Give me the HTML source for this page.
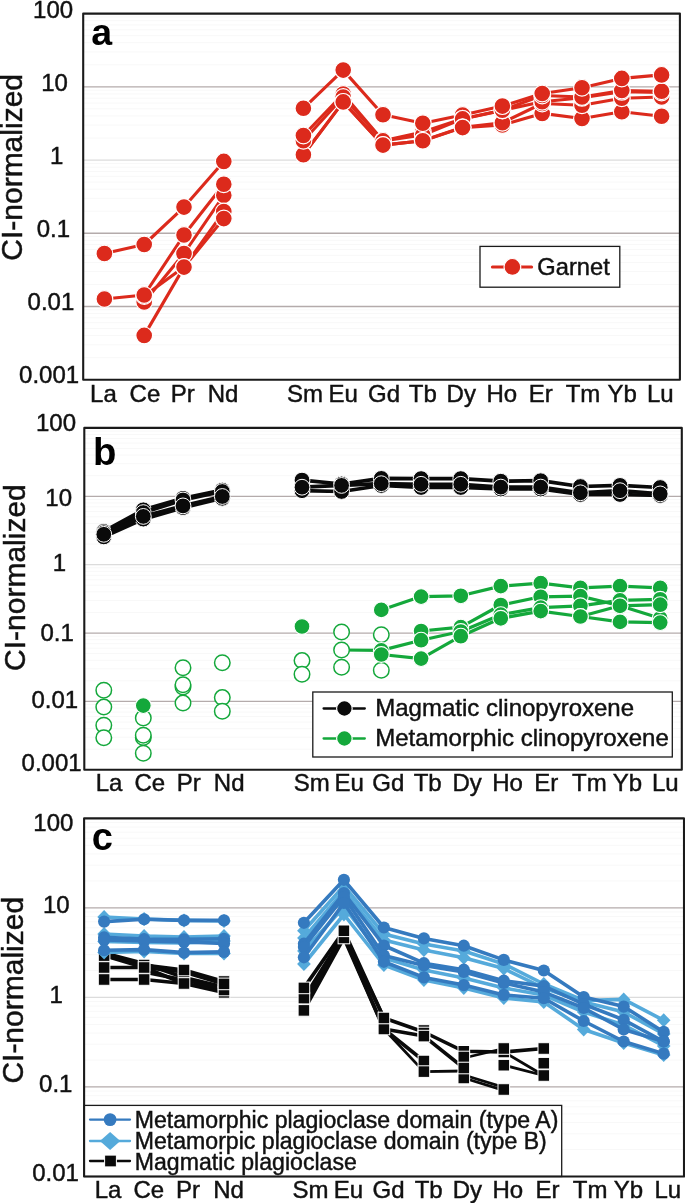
<!DOCTYPE html>
<html><head><meta charset="utf-8"><title>REE patterns</title>
<style>
html,body{margin:0;padding:0;background:#fff;}
body{width:685px;height:1203px;overflow:hidden;}
svg{display:block;will-change:transform;font-family:"Liberation Sans",sans-serif;}
text{stroke:#111;stroke-width:0.45px;}
text[font-weight]{stroke:none;}
</style></head><body>
<svg width="685" height="1203" viewBox="0 0 685 1203">
<rect width="685" height="1203" fill="#fff"/>
<rect x="83.2" y="13.6" width="596.70" height="366.10" fill="#fff"/>
<line x1="83.2" x2="679.9" y1="64.78" y2="64.78" stroke="#f8f8f8" stroke-width="1"/>
<line x1="83.2" x2="679.9" y1="51.89" y2="51.89" stroke="#f8f8f8" stroke-width="1"/>
<line x1="83.2" x2="679.9" y1="42.74" y2="42.74" stroke="#f8f8f8" stroke-width="1"/>
<line x1="83.2" x2="679.9" y1="35.64" y2="35.64" stroke="#f8f8f8" stroke-width="1"/>
<line x1="83.2" x2="679.9" y1="29.84" y2="29.84" stroke="#f8f8f8" stroke-width="1"/>
<line x1="83.2" x2="679.9" y1="24.94" y2="24.94" stroke="#f8f8f8" stroke-width="1"/>
<line x1="83.2" x2="679.9" y1="20.70" y2="20.70" stroke="#f8f8f8" stroke-width="1"/>
<line x1="83.2" x2="679.9" y1="16.95" y2="16.95" stroke="#f8f8f8" stroke-width="1"/>
<line x1="83.2" x2="679.9" y1="138.00" y2="138.00" stroke="#f8f8f8" stroke-width="1"/>
<line x1="83.2" x2="679.9" y1="125.11" y2="125.11" stroke="#f8f8f8" stroke-width="1"/>
<line x1="83.2" x2="679.9" y1="115.96" y2="115.96" stroke="#f8f8f8" stroke-width="1"/>
<line x1="83.2" x2="679.9" y1="108.86" y2="108.86" stroke="#f8f8f8" stroke-width="1"/>
<line x1="83.2" x2="679.9" y1="103.06" y2="103.06" stroke="#f8f8f8" stroke-width="1"/>
<line x1="83.2" x2="679.9" y1="98.16" y2="98.16" stroke="#f8f8f8" stroke-width="1"/>
<line x1="83.2" x2="679.9" y1="93.92" y2="93.92" stroke="#f8f8f8" stroke-width="1"/>
<line x1="83.2" x2="679.9" y1="90.17" y2="90.17" stroke="#f8f8f8" stroke-width="1"/>
<line x1="83.2" x2="679.9" y1="211.22" y2="211.22" stroke="#f8f8f8" stroke-width="1"/>
<line x1="83.2" x2="679.9" y1="198.33" y2="198.33" stroke="#f8f8f8" stroke-width="1"/>
<line x1="83.2" x2="679.9" y1="189.18" y2="189.18" stroke="#f8f8f8" stroke-width="1"/>
<line x1="83.2" x2="679.9" y1="182.08" y2="182.08" stroke="#f8f8f8" stroke-width="1"/>
<line x1="83.2" x2="679.9" y1="176.28" y2="176.28" stroke="#f8f8f8" stroke-width="1"/>
<line x1="83.2" x2="679.9" y1="171.38" y2="171.38" stroke="#f8f8f8" stroke-width="1"/>
<line x1="83.2" x2="679.9" y1="167.14" y2="167.14" stroke="#f8f8f8" stroke-width="1"/>
<line x1="83.2" x2="679.9" y1="163.39" y2="163.39" stroke="#f8f8f8" stroke-width="1"/>
<line x1="83.2" x2="679.9" y1="284.44" y2="284.44" stroke="#f8f8f8" stroke-width="1"/>
<line x1="83.2" x2="679.9" y1="271.55" y2="271.55" stroke="#f8f8f8" stroke-width="1"/>
<line x1="83.2" x2="679.9" y1="262.40" y2="262.40" stroke="#f8f8f8" stroke-width="1"/>
<line x1="83.2" x2="679.9" y1="255.30" y2="255.30" stroke="#f8f8f8" stroke-width="1"/>
<line x1="83.2" x2="679.9" y1="249.50" y2="249.50" stroke="#f8f8f8" stroke-width="1"/>
<line x1="83.2" x2="679.9" y1="244.60" y2="244.60" stroke="#f8f8f8" stroke-width="1"/>
<line x1="83.2" x2="679.9" y1="240.36" y2="240.36" stroke="#f8f8f8" stroke-width="1"/>
<line x1="83.2" x2="679.9" y1="236.61" y2="236.61" stroke="#f8f8f8" stroke-width="1"/>
<line x1="83.2" x2="679.9" y1="357.66" y2="357.66" stroke="#f8f8f8" stroke-width="1"/>
<line x1="83.2" x2="679.9" y1="344.77" y2="344.77" stroke="#f8f8f8" stroke-width="1"/>
<line x1="83.2" x2="679.9" y1="335.62" y2="335.62" stroke="#f8f8f8" stroke-width="1"/>
<line x1="83.2" x2="679.9" y1="328.52" y2="328.52" stroke="#f8f8f8" stroke-width="1"/>
<line x1="83.2" x2="679.9" y1="322.72" y2="322.72" stroke="#f8f8f8" stroke-width="1"/>
<line x1="83.2" x2="679.9" y1="317.82" y2="317.82" stroke="#f8f8f8" stroke-width="1"/>
<line x1="83.2" x2="679.9" y1="313.58" y2="313.58" stroke="#f8f8f8" stroke-width="1"/>
<line x1="83.2" x2="679.9" y1="309.83" y2="309.83" stroke="#f8f8f8" stroke-width="1"/>
<line x1="83.2" x2="679.9" y1="86.82" y2="86.82" stroke="#b4abab" stroke-width="1.3"/>
<line x1="83.2" x2="679.9" y1="160.04" y2="160.04" stroke="#dcdcdc" stroke-width="1.3"/>
<line x1="83.2" x2="679.9" y1="233.26" y2="233.26" stroke="#b4abab" stroke-width="1.3"/>
<line x1="83.2" x2="679.9" y1="306.48" y2="306.48" stroke="#b4abab" stroke-width="1.3"/>
<polyline points="104.4,253.5 144.2,244.5 184.0,207.1 223.8,161.4" fill="none" stroke="#dc2a1c" stroke-width="3.1" stroke-linejoin="round" stroke-linecap="round"/>
<polyline points="104.4,299.0 144.2,295.0 184.0,235.0 223.8,184.2" fill="none" stroke="#dc2a1c" stroke-width="3.1" stroke-linejoin="round" stroke-linecap="round"/>
<polyline points="144.2,302.0 184.0,253.5 223.8,195.3" fill="none" stroke="#dc2a1c" stroke-width="3.1" stroke-linejoin="round" stroke-linecap="round"/>
<polyline points="144.2,335.4 184.0,267.1 223.8,211.6" fill="none" stroke="#dc2a1c" stroke-width="3.1" stroke-linejoin="round" stroke-linecap="round"/>
<polyline points="144.2,296.0 184.0,267.1 223.8,218.6" fill="none" stroke="#dc2a1c" stroke-width="3.1" stroke-linejoin="round" stroke-linecap="round"/>
<polyline points="303.4,108.3 343.2,70.1 383.0,114.7 422.8,123.2 462.6,115.0 502.4,106.1 542.2,93.5 582.0,87.7 621.8,78.4 661.6,74.9" fill="none" stroke="#dc2a1c" stroke-width="3.1" stroke-linejoin="round" stroke-linecap="round"/>
<polyline points="303.4,135.5 343.2,94.0 383.0,140.7 422.8,132.0 462.6,118.8 502.4,110.2 542.2,95.5 582.0,97.0 621.8,90.5 661.6,91.2" fill="none" stroke="#dc2a1c" stroke-width="3.1" stroke-linejoin="round" stroke-linecap="round"/>
<polyline points="303.4,140.7 343.2,97.0 383.0,140.9 422.8,135.0 462.6,118.9 502.4,110.4 542.2,101.7 582.0,97.8 621.8,91.8 661.6,92.5" fill="none" stroke="#dc2a1c" stroke-width="3.1" stroke-linejoin="round" stroke-linecap="round"/>
<polyline points="303.4,154.7 343.2,101.9 383.0,145.1 422.8,140.7 462.6,127.3 502.4,122.7 542.2,103.5 582.0,105.2 621.8,98.2 661.6,97.0" fill="none" stroke="#dc2a1c" stroke-width="3.1" stroke-linejoin="round" stroke-linecap="round"/>
<polyline points="303.4,154.7 343.2,101.9 383.0,145.1 422.8,140.7 462.6,127.6 502.4,125.0 542.2,113.4 582.0,118.5 621.8,111.8 661.6,116.2" fill="none" stroke="#dc2a1c" stroke-width="3.1" stroke-linejoin="round" stroke-linecap="round"/>
<circle cx="104.4" cy="253.5" r="8.4" fill="#dc2a1c" stroke="#fff" stroke-width="1.2"/>
<circle cx="104.4" cy="299.0" r="8.4" fill="#dc2a1c" stroke="#fff" stroke-width="1.2"/>
<circle cx="144.2" cy="335.4" r="8.4" fill="#dc2a1c" stroke="#fff" stroke-width="1.2"/>
<circle cx="144.2" cy="302.0" r="8.4" fill="#dc2a1c" stroke="#fff" stroke-width="1.2"/>
<circle cx="144.2" cy="296.0" r="8.4" fill="#dc2a1c" stroke="#fff" stroke-width="1.2"/>
<circle cx="144.2" cy="295.0" r="8.4" fill="#dc2a1c" stroke="#fff" stroke-width="1.2"/>
<circle cx="144.2" cy="244.5" r="8.4" fill="#dc2a1c" stroke="#fff" stroke-width="1.2"/>
<circle cx="184.0" cy="207.1" r="8.4" fill="#dc2a1c" stroke="#fff" stroke-width="1.2"/>
<circle cx="184.0" cy="235.0" r="8.4" fill="#dc2a1c" stroke="#fff" stroke-width="1.2"/>
<circle cx="184.0" cy="253.5" r="8.4" fill="#dc2a1c" stroke="#fff" stroke-width="1.2"/>
<circle cx="184.0" cy="267.1" r="8.4" fill="#dc2a1c" stroke="#fff" stroke-width="1.2"/>
<circle cx="184.0" cy="267.1" r="8.4" fill="#dc2a1c" stroke="#fff" stroke-width="1.2"/>
<circle cx="223.8" cy="161.4" r="8.4" fill="#dc2a1c" stroke="#fff" stroke-width="1.2"/>
<circle cx="223.8" cy="195.3" r="8.4" fill="#dc2a1c" stroke="#fff" stroke-width="1.2"/>
<circle cx="223.8" cy="184.2" r="8.4" fill="#dc2a1c" stroke="#fff" stroke-width="1.2"/>
<circle cx="223.8" cy="211.6" r="8.4" fill="#dc2a1c" stroke="#fff" stroke-width="1.2"/>
<circle cx="223.8" cy="218.6" r="8.4" fill="#dc2a1c" stroke="#fff" stroke-width="1.2"/>
<circle cx="303.4" cy="154.7" r="8.4" fill="#dc2a1c" stroke="#fff" stroke-width="1.2"/>
<circle cx="303.4" cy="154.7" r="8.4" fill="#dc2a1c" stroke="#fff" stroke-width="1.2"/>
<circle cx="303.4" cy="140.7" r="8.4" fill="#dc2a1c" stroke="#fff" stroke-width="1.2"/>
<circle cx="303.4" cy="135.5" r="8.4" fill="#dc2a1c" stroke="#fff" stroke-width="1.2"/>
<circle cx="303.4" cy="108.3" r="8.4" fill="#dc2a1c" stroke="#fff" stroke-width="1.2"/>
<circle cx="343.2" cy="70.1" r="8.4" fill="#dc2a1c" stroke="#fff" stroke-width="1.2"/>
<circle cx="343.2" cy="94.0" r="8.4" fill="#dc2a1c" stroke="#fff" stroke-width="1.2"/>
<circle cx="343.2" cy="97.0" r="8.4" fill="#dc2a1c" stroke="#fff" stroke-width="1.2"/>
<circle cx="343.2" cy="101.9" r="8.4" fill="#dc2a1c" stroke="#fff" stroke-width="1.2"/>
<circle cx="343.2" cy="101.9" r="8.4" fill="#dc2a1c" stroke="#fff" stroke-width="1.2"/>
<circle cx="383.0" cy="114.7" r="8.4" fill="#dc2a1c" stroke="#fff" stroke-width="1.2"/>
<circle cx="383.0" cy="140.7" r="8.4" fill="#dc2a1c" stroke="#fff" stroke-width="1.2"/>
<circle cx="383.0" cy="140.9" r="8.4" fill="#dc2a1c" stroke="#fff" stroke-width="1.2"/>
<circle cx="383.0" cy="145.1" r="8.4" fill="#dc2a1c" stroke="#fff" stroke-width="1.2"/>
<circle cx="383.0" cy="145.1" r="8.4" fill="#dc2a1c" stroke="#fff" stroke-width="1.2"/>
<circle cx="422.8" cy="132.0" r="8.4" fill="#dc2a1c" stroke="#fff" stroke-width="1.2"/>
<circle cx="422.8" cy="135.0" r="8.4" fill="#dc2a1c" stroke="#fff" stroke-width="1.2"/>
<circle cx="422.8" cy="140.7" r="8.4" fill="#dc2a1c" stroke="#fff" stroke-width="1.2"/>
<circle cx="422.8" cy="140.7" r="8.4" fill="#dc2a1c" stroke="#fff" stroke-width="1.2"/>
<circle cx="422.8" cy="123.2" r="8.4" fill="#dc2a1c" stroke="#fff" stroke-width="1.2"/>
<circle cx="462.6" cy="115.0" r="8.4" fill="#dc2a1c" stroke="#fff" stroke-width="1.2"/>
<circle cx="462.6" cy="118.8" r="8.4" fill="#dc2a1c" stroke="#fff" stroke-width="1.2"/>
<circle cx="462.6" cy="118.9" r="8.4" fill="#dc2a1c" stroke="#fff" stroke-width="1.2"/>
<circle cx="462.6" cy="127.3" r="8.4" fill="#dc2a1c" stroke="#fff" stroke-width="1.2"/>
<circle cx="462.6" cy="127.6" r="8.4" fill="#dc2a1c" stroke="#fff" stroke-width="1.2"/>
<circle cx="502.4" cy="125.0" r="8.4" fill="#dc2a1c" stroke="#fff" stroke-width="1.2"/>
<circle cx="502.4" cy="122.7" r="8.4" fill="#dc2a1c" stroke="#fff" stroke-width="1.2"/>
<circle cx="502.4" cy="110.4" r="8.4" fill="#dc2a1c" stroke="#fff" stroke-width="1.2"/>
<circle cx="502.4" cy="110.2" r="8.4" fill="#dc2a1c" stroke="#fff" stroke-width="1.2"/>
<circle cx="502.4" cy="106.1" r="8.4" fill="#dc2a1c" stroke="#fff" stroke-width="1.2"/>
<circle cx="542.2" cy="113.4" r="8.4" fill="#dc2a1c" stroke="#fff" stroke-width="1.2"/>
<circle cx="542.2" cy="103.5" r="8.4" fill="#dc2a1c" stroke="#fff" stroke-width="1.2"/>
<circle cx="542.2" cy="101.7" r="8.4" fill="#dc2a1c" stroke="#fff" stroke-width="1.2"/>
<circle cx="542.2" cy="95.5" r="8.4" fill="#dc2a1c" stroke="#fff" stroke-width="1.2"/>
<circle cx="542.2" cy="93.5" r="8.4" fill="#dc2a1c" stroke="#fff" stroke-width="1.2"/>
<circle cx="582.0" cy="118.5" r="8.4" fill="#dc2a1c" stroke="#fff" stroke-width="1.2"/>
<circle cx="582.0" cy="105.2" r="8.4" fill="#dc2a1c" stroke="#fff" stroke-width="1.2"/>
<circle cx="582.0" cy="97.8" r="8.4" fill="#dc2a1c" stroke="#fff" stroke-width="1.2"/>
<circle cx="582.0" cy="97.0" r="8.4" fill="#dc2a1c" stroke="#fff" stroke-width="1.2"/>
<circle cx="582.0" cy="87.7" r="8.4" fill="#dc2a1c" stroke="#fff" stroke-width="1.2"/>
<circle cx="621.8" cy="111.8" r="8.4" fill="#dc2a1c" stroke="#fff" stroke-width="1.2"/>
<circle cx="621.8" cy="98.2" r="8.4" fill="#dc2a1c" stroke="#fff" stroke-width="1.2"/>
<circle cx="621.8" cy="91.8" r="8.4" fill="#dc2a1c" stroke="#fff" stroke-width="1.2"/>
<circle cx="621.8" cy="90.5" r="8.4" fill="#dc2a1c" stroke="#fff" stroke-width="1.2"/>
<circle cx="621.8" cy="78.4" r="8.4" fill="#dc2a1c" stroke="#fff" stroke-width="1.2"/>
<circle cx="661.6" cy="116.2" r="8.4" fill="#dc2a1c" stroke="#fff" stroke-width="1.2"/>
<circle cx="661.6" cy="97.0" r="8.4" fill="#dc2a1c" stroke="#fff" stroke-width="1.2"/>
<circle cx="661.6" cy="92.5" r="8.4" fill="#dc2a1c" stroke="#fff" stroke-width="1.2"/>
<circle cx="661.6" cy="91.2" r="8.4" fill="#dc2a1c" stroke="#fff" stroke-width="1.2"/>
<circle cx="661.6" cy="74.9" r="8.4" fill="#dc2a1c" stroke="#fff" stroke-width="1.2"/>
<rect x="83.2" y="13.6" width="596.70" height="366.10" fill="none" stroke="#1a1a1a" stroke-width="2.1" stroke-linejoin="round"/>
<rect x="480" y="246.4" width="139.8" height="40.8" fill="#fff" stroke="#1a1a1a" stroke-width="1.3"/>
<polyline points="492.4,266.9 531.6,266.9" fill="none" stroke="#dc2a1c" stroke-width="3.0" stroke-linejoin="round" stroke-linecap="round"/>
<circle cx="512.4" cy="266.9" r="8.4" fill="#dc2a1c" stroke="#fff" stroke-width="1.2"/>
<text x="537.32" y="275.10" font-size="23.7" fill="#111">Garnet</text>
<text x="91.16" y="45.00" font-size="37.5" font-weight="bold" fill="#000">a</text>
<text x="33.10" y="17.90" font-size="24" fill="#111">100</text>
<text x="41.20" y="90.90" font-size="24" fill="#111">10</text>
<text x="50.00" y="163.90" font-size="24" fill="#111">1</text>
<text x="36.66" y="237.30" font-size="24" fill="#111">0.1</text>
<text x="27.56" y="310.40" font-size="24" fill="#111">0.01</text>
<text x="19.06" y="383.40" font-size="24" fill="#111">0.001</text>
<text x="90.06" y="401.80" font-size="24" fill="#111">La</text>
<text x="129.58" y="401.80" font-size="24" fill="#111">Ce</text>
<text x="170.72" y="401.80" font-size="24" fill="#111">Pr</text>
<text x="207.76" y="401.80" font-size="24" fill="#111">Nd</text>
<text x="286.94" y="401.80" font-size="24" fill="#111">Sm</text>
<text x="328.58" y="401.80" font-size="24" fill="#111">Eu</text>
<text x="368.10" y="401.80" font-size="24" fill="#111">Gd</text>
<text x="408.86" y="401.80" font-size="24" fill="#111">Tb</text>
<text x="446.60" y="401.80" font-size="24" fill="#111">Dy</text>
<text x="486.42" y="401.80" font-size="24" fill="#111">Ho</text>
<text x="528.82" y="401.80" font-size="24" fill="#111">Er</text>
<text x="565.70" y="401.80" font-size="24" fill="#111">Tm</text>
<text x="607.50" y="401.80" font-size="24" fill="#111">Yb</text>
<text x="647.00" y="401.80" font-size="24" fill="#111">Lu</text>
<text transform="translate(22.30,167.50) rotate(-90)" x="-93.22" y="0" font-size="30.0" fill="#111">CI-normalized</text>
<rect x="84.3" y="427.9" width="597.50" height="341.90" fill="#fff"/>
<line x1="84.3" x2="681.8" y1="475.70" y2="475.70" stroke="#f8f8f8" stroke-width="1"/>
<line x1="84.3" x2="681.8" y1="463.65" y2="463.65" stroke="#f8f8f8" stroke-width="1"/>
<line x1="84.3" x2="681.8" y1="455.11" y2="455.11" stroke="#f8f8f8" stroke-width="1"/>
<line x1="84.3" x2="681.8" y1="448.48" y2="448.48" stroke="#f8f8f8" stroke-width="1"/>
<line x1="84.3" x2="681.8" y1="443.07" y2="443.07" stroke="#f8f8f8" stroke-width="1"/>
<line x1="84.3" x2="681.8" y1="438.49" y2="438.49" stroke="#f8f8f8" stroke-width="1"/>
<line x1="84.3" x2="681.8" y1="434.53" y2="434.53" stroke="#f8f8f8" stroke-width="1"/>
<line x1="84.3" x2="681.8" y1="431.03" y2="431.03" stroke="#f8f8f8" stroke-width="1"/>
<line x1="84.3" x2="681.8" y1="544.08" y2="544.08" stroke="#f8f8f8" stroke-width="1"/>
<line x1="84.3" x2="681.8" y1="532.03" y2="532.03" stroke="#f8f8f8" stroke-width="1"/>
<line x1="84.3" x2="681.8" y1="523.49" y2="523.49" stroke="#f8f8f8" stroke-width="1"/>
<line x1="84.3" x2="681.8" y1="516.86" y2="516.86" stroke="#f8f8f8" stroke-width="1"/>
<line x1="84.3" x2="681.8" y1="511.45" y2="511.45" stroke="#f8f8f8" stroke-width="1"/>
<line x1="84.3" x2="681.8" y1="506.87" y2="506.87" stroke="#f8f8f8" stroke-width="1"/>
<line x1="84.3" x2="681.8" y1="502.91" y2="502.91" stroke="#f8f8f8" stroke-width="1"/>
<line x1="84.3" x2="681.8" y1="499.41" y2="499.41" stroke="#f8f8f8" stroke-width="1"/>
<line x1="84.3" x2="681.8" y1="612.46" y2="612.46" stroke="#f8f8f8" stroke-width="1"/>
<line x1="84.3" x2="681.8" y1="600.41" y2="600.41" stroke="#f8f8f8" stroke-width="1"/>
<line x1="84.3" x2="681.8" y1="591.87" y2="591.87" stroke="#f8f8f8" stroke-width="1"/>
<line x1="84.3" x2="681.8" y1="585.24" y2="585.24" stroke="#f8f8f8" stroke-width="1"/>
<line x1="84.3" x2="681.8" y1="579.83" y2="579.83" stroke="#f8f8f8" stroke-width="1"/>
<line x1="84.3" x2="681.8" y1="575.25" y2="575.25" stroke="#f8f8f8" stroke-width="1"/>
<line x1="84.3" x2="681.8" y1="571.29" y2="571.29" stroke="#f8f8f8" stroke-width="1"/>
<line x1="84.3" x2="681.8" y1="567.79" y2="567.79" stroke="#f8f8f8" stroke-width="1"/>
<line x1="84.3" x2="681.8" y1="680.84" y2="680.84" stroke="#f8f8f8" stroke-width="1"/>
<line x1="84.3" x2="681.8" y1="668.79" y2="668.79" stroke="#f8f8f8" stroke-width="1"/>
<line x1="84.3" x2="681.8" y1="660.25" y2="660.25" stroke="#f8f8f8" stroke-width="1"/>
<line x1="84.3" x2="681.8" y1="653.62" y2="653.62" stroke="#f8f8f8" stroke-width="1"/>
<line x1="84.3" x2="681.8" y1="648.21" y2="648.21" stroke="#f8f8f8" stroke-width="1"/>
<line x1="84.3" x2="681.8" y1="643.63" y2="643.63" stroke="#f8f8f8" stroke-width="1"/>
<line x1="84.3" x2="681.8" y1="639.67" y2="639.67" stroke="#f8f8f8" stroke-width="1"/>
<line x1="84.3" x2="681.8" y1="636.17" y2="636.17" stroke="#f8f8f8" stroke-width="1"/>
<line x1="84.3" x2="681.8" y1="749.22" y2="749.22" stroke="#f8f8f8" stroke-width="1"/>
<line x1="84.3" x2="681.8" y1="737.17" y2="737.17" stroke="#f8f8f8" stroke-width="1"/>
<line x1="84.3" x2="681.8" y1="728.63" y2="728.63" stroke="#f8f8f8" stroke-width="1"/>
<line x1="84.3" x2="681.8" y1="722.00" y2="722.00" stroke="#f8f8f8" stroke-width="1"/>
<line x1="84.3" x2="681.8" y1="716.59" y2="716.59" stroke="#f8f8f8" stroke-width="1"/>
<line x1="84.3" x2="681.8" y1="712.01" y2="712.01" stroke="#f8f8f8" stroke-width="1"/>
<line x1="84.3" x2="681.8" y1="708.05" y2="708.05" stroke="#f8f8f8" stroke-width="1"/>
<line x1="84.3" x2="681.8" y1="704.55" y2="704.55" stroke="#f8f8f8" stroke-width="1"/>
<line x1="84.3" x2="681.8" y1="496.28" y2="496.28" stroke="#b4abab" stroke-width="1.3"/>
<line x1="84.3" x2="681.8" y1="564.66" y2="564.66" stroke="#dcdcdc" stroke-width="1.3"/>
<line x1="84.3" x2="681.8" y1="633.04" y2="633.04" stroke="#b4abab" stroke-width="1.3"/>
<line x1="84.3" x2="681.8" y1="701.42" y2="701.42" stroke="#b4abab" stroke-width="1.3"/>
<polyline points="381.3,609.9 421.1,596.6 460.8,595.8 500.8,586.1 540.7,583.2 580.4,587.9 620.0,586.1 660.2,587.9" fill="none" stroke="#14a83b" stroke-width="3.2" stroke-linejoin="round" stroke-linecap="round"/>
<polyline points="421.1,631.0 460.8,627.2 500.8,605.0 540.7,596.8 580.4,596.1 620.0,605.8 660.2,618.3" fill="none" stroke="#14a83b" stroke-width="3.2" stroke-linejoin="round" stroke-linecap="round"/>
<polyline points="341.6,650.0 381.3,650.4 421.1,640.2 460.8,631.5 500.8,614.7 540.7,607.6 580.4,605.8 620.0,600.4 660.2,599.3" fill="none" stroke="#14a83b" stroke-width="3.2" stroke-linejoin="round" stroke-linecap="round"/>
<polyline points="381.3,654.5 421.1,658.6 460.8,636.2 500.8,618.3 540.7,611.1 580.4,616.5 620.0,621.9 660.2,622.6" fill="none" stroke="#14a83b" stroke-width="3.2" stroke-linejoin="round" stroke-linecap="round"/>
<polyline points="580.4,616.5 620.0,605.8 660.2,604.7" fill="none" stroke="#14a83b" stroke-width="3.2" stroke-linejoin="round" stroke-linecap="round"/>
<circle cx="103.8" cy="690.2" r="7.75" fill="#fff" stroke="#14a83b" stroke-width="1.5"/>
<circle cx="103.8" cy="707.1" r="7.75" fill="#fff" stroke="#14a83b" stroke-width="1.5"/>
<circle cx="103.8" cy="725.2" r="7.75" fill="#fff" stroke="#14a83b" stroke-width="1.5"/>
<circle cx="103.8" cy="737.7" r="7.75" fill="#fff" stroke="#14a83b" stroke-width="1.5"/>
<circle cx="143.3" cy="718.0" r="7.75" fill="#fff" stroke="#14a83b" stroke-width="1.5"/>
<circle cx="143.3" cy="737.5" r="7.75" fill="#fff" stroke="#14a83b" stroke-width="1.5"/>
<circle cx="143.3" cy="735.2" r="7.75" fill="#fff" stroke="#14a83b" stroke-width="1.5"/>
<circle cx="143.3" cy="753.3" r="7.75" fill="#fff" stroke="#14a83b" stroke-width="1.5"/>
<circle cx="183.0" cy="667.8" r="7.75" fill="#fff" stroke="#14a83b" stroke-width="1.5"/>
<circle cx="183.0" cy="687.0" r="7.75" fill="#fff" stroke="#14a83b" stroke-width="1.5"/>
<circle cx="183.0" cy="684.7" r="7.75" fill="#fff" stroke="#14a83b" stroke-width="1.5"/>
<circle cx="183.0" cy="703.1" r="7.75" fill="#fff" stroke="#14a83b" stroke-width="1.5"/>
<circle cx="222.3" cy="662.8" r="7.75" fill="#fff" stroke="#14a83b" stroke-width="1.5"/>
<circle cx="222.3" cy="697.6" r="7.75" fill="#fff" stroke="#14a83b" stroke-width="1.5"/>
<circle cx="222.3" cy="711.2" r="7.75" fill="#fff" stroke="#14a83b" stroke-width="1.5"/>
<circle cx="302.0" cy="660.6" r="7.75" fill="#fff" stroke="#14a83b" stroke-width="1.5"/>
<circle cx="302.0" cy="674.3" r="7.75" fill="#fff" stroke="#14a83b" stroke-width="1.5"/>
<circle cx="341.6" cy="632.0" r="7.75" fill="#fff" stroke="#14a83b" stroke-width="1.5"/>
<circle cx="341.6" cy="667.2" r="7.75" fill="#fff" stroke="#14a83b" stroke-width="1.5"/>
<circle cx="381.3" cy="634.7" r="7.75" fill="#fff" stroke="#14a83b" stroke-width="1.5"/>
<circle cx="381.3" cy="670.2" r="7.75" fill="#fff" stroke="#14a83b" stroke-width="1.5"/>
<circle cx="381.3" cy="609.9" r="7.9" fill="#14a83b" stroke="#fff" stroke-width="1.1"/>
<circle cx="421.1" cy="596.6" r="7.9" fill="#14a83b" stroke="#fff" stroke-width="1.1"/>
<circle cx="460.8" cy="595.8" r="7.9" fill="#14a83b" stroke="#fff" stroke-width="1.1"/>
<circle cx="500.8" cy="586.1" r="7.9" fill="#14a83b" stroke="#fff" stroke-width="1.1"/>
<circle cx="540.7" cy="583.2" r="7.9" fill="#14a83b" stroke="#fff" stroke-width="1.1"/>
<circle cx="580.4" cy="587.9" r="7.9" fill="#14a83b" stroke="#fff" stroke-width="1.1"/>
<circle cx="620.0" cy="586.1" r="7.9" fill="#14a83b" stroke="#fff" stroke-width="1.1"/>
<circle cx="660.2" cy="587.9" r="7.9" fill="#14a83b" stroke="#fff" stroke-width="1.1"/>
<circle cx="421.1" cy="631.0" r="7.9" fill="#14a83b" stroke="#fff" stroke-width="1.1"/>
<circle cx="460.8" cy="627.2" r="7.9" fill="#14a83b" stroke="#fff" stroke-width="1.1"/>
<circle cx="500.8" cy="605.0" r="7.9" fill="#14a83b" stroke="#fff" stroke-width="1.1"/>
<circle cx="540.7" cy="596.8" r="7.9" fill="#14a83b" stroke="#fff" stroke-width="1.1"/>
<circle cx="580.4" cy="596.1" r="7.9" fill="#14a83b" stroke="#fff" stroke-width="1.1"/>
<circle cx="620.0" cy="605.8" r="7.9" fill="#14a83b" stroke="#fff" stroke-width="1.1"/>
<circle cx="660.2" cy="618.3" r="7.9" fill="#14a83b" stroke="#fff" stroke-width="1.1"/>
<circle cx="341.6" cy="650.0" r="7.75" fill="#fff" stroke="#14a83b" stroke-width="1.5"/>
<circle cx="381.3" cy="650.4" r="7.9" fill="#14a83b" stroke="#fff" stroke-width="1.1"/>
<circle cx="421.1" cy="640.2" r="7.9" fill="#14a83b" stroke="#fff" stroke-width="1.1"/>
<circle cx="460.8" cy="631.5" r="7.9" fill="#14a83b" stroke="#fff" stroke-width="1.1"/>
<circle cx="500.8" cy="614.7" r="7.9" fill="#14a83b" stroke="#fff" stroke-width="1.1"/>
<circle cx="540.7" cy="607.6" r="7.9" fill="#14a83b" stroke="#fff" stroke-width="1.1"/>
<circle cx="580.4" cy="605.8" r="7.9" fill="#14a83b" stroke="#fff" stroke-width="1.1"/>
<circle cx="620.0" cy="600.4" r="7.9" fill="#14a83b" stroke="#fff" stroke-width="1.1"/>
<circle cx="660.2" cy="599.3" r="7.9" fill="#14a83b" stroke="#fff" stroke-width="1.1"/>
<circle cx="381.3" cy="654.5" r="7.9" fill="#14a83b" stroke="#fff" stroke-width="1.1"/>
<circle cx="421.1" cy="658.6" r="7.9" fill="#14a83b" stroke="#fff" stroke-width="1.1"/>
<circle cx="460.8" cy="636.2" r="7.9" fill="#14a83b" stroke="#fff" stroke-width="1.1"/>
<circle cx="500.8" cy="618.3" r="7.9" fill="#14a83b" stroke="#fff" stroke-width="1.1"/>
<circle cx="540.7" cy="611.1" r="7.9" fill="#14a83b" stroke="#fff" stroke-width="1.1"/>
<circle cx="580.4" cy="616.5" r="7.9" fill="#14a83b" stroke="#fff" stroke-width="1.1"/>
<circle cx="620.0" cy="621.9" r="7.9" fill="#14a83b" stroke="#fff" stroke-width="1.1"/>
<circle cx="660.2" cy="622.6" r="7.9" fill="#14a83b" stroke="#fff" stroke-width="1.1"/>
<circle cx="580.4" cy="616.5" r="7.9" fill="#14a83b" stroke="#fff" stroke-width="1.1"/>
<circle cx="620.0" cy="605.8" r="7.9" fill="#14a83b" stroke="#fff" stroke-width="1.1"/>
<circle cx="660.2" cy="604.7" r="7.9" fill="#14a83b" stroke="#fff" stroke-width="1.1"/>
<circle cx="302.0" cy="626.5" r="7.9" fill="#14a83b" stroke="#fff" stroke-width="1.1"/>
<circle cx="143.3" cy="705.6" r="7.9" fill="#14a83b" stroke="#fff" stroke-width="1.1"/>
<polyline points="103.8,531.4 143.3,509.8 183.0,498.3 222.3,490.1" fill="none" stroke="#0a0a0a" stroke-width="3.7" stroke-linejoin="round" stroke-linecap="round"/>
<circle cx="103.8" cy="531.4" r="7.9" fill="#0a0a0a" stroke="#fff" stroke-width="1.0"/>
<circle cx="143.3" cy="509.8" r="7.9" fill="#0a0a0a" stroke="#fff" stroke-width="1.0"/>
<circle cx="183.0" cy="498.3" r="7.9" fill="#0a0a0a" stroke="#fff" stroke-width="1.0"/>
<circle cx="222.3" cy="490.1" r="7.9" fill="#0a0a0a" stroke="#fff" stroke-width="1.0"/>
<polyline points="103.8,532.8 143.3,512.6 183.0,500.0 222.3,491.5" fill="none" stroke="#0a0a0a" stroke-width="3.7" stroke-linejoin="round" stroke-linecap="round"/>
<circle cx="103.8" cy="532.8" r="7.9" fill="#0a0a0a" stroke="#fff" stroke-width="1.0"/>
<circle cx="143.3" cy="512.6" r="7.9" fill="#0a0a0a" stroke="#fff" stroke-width="1.0"/>
<circle cx="183.0" cy="500.0" r="7.9" fill="#0a0a0a" stroke="#fff" stroke-width="1.0"/>
<circle cx="222.3" cy="491.5" r="7.9" fill="#0a0a0a" stroke="#fff" stroke-width="1.0"/>
<polyline points="103.8,536.9 143.3,519.1 183.0,507.6 222.3,498.3" fill="none" stroke="#0a0a0a" stroke-width="3.7" stroke-linejoin="round" stroke-linecap="round"/>
<circle cx="103.8" cy="536.9" r="7.9" fill="#0a0a0a" stroke="#fff" stroke-width="1.0"/>
<circle cx="143.3" cy="519.1" r="7.9" fill="#0a0a0a" stroke="#fff" stroke-width="1.0"/>
<circle cx="183.0" cy="507.6" r="7.9" fill="#0a0a0a" stroke="#fff" stroke-width="1.0"/>
<circle cx="222.3" cy="498.3" r="7.9" fill="#0a0a0a" stroke="#fff" stroke-width="1.0"/>
<polyline points="103.8,534.3 143.3,516.4 183.0,505.9 222.3,496.5" fill="none" stroke="#0a0a0a" stroke-width="3.7" stroke-linejoin="round" stroke-linecap="round"/>
<circle cx="103.8" cy="534.3" r="7.9" fill="#0a0a0a" stroke="#fff" stroke-width="1.0"/>
<circle cx="143.3" cy="516.4" r="7.9" fill="#0a0a0a" stroke="#fff" stroke-width="1.0"/>
<circle cx="183.0" cy="505.9" r="7.9" fill="#0a0a0a" stroke="#fff" stroke-width="1.0"/>
<circle cx="222.3" cy="496.5" r="7.9" fill="#0a0a0a" stroke="#fff" stroke-width="1.0"/>
<polyline points="302.0,480.1 341.6,484.0 381.3,478.4 421.1,478.6 460.8,478.6 500.8,481.2 540.7,480.7 580.4,486.5 620.0,485.4 660.2,487.5" fill="none" stroke="#0a0a0a" stroke-width="3.7" stroke-linejoin="round" stroke-linecap="round"/>
<circle cx="302.0" cy="480.1" r="7.9" fill="#0a0a0a" stroke="#fff" stroke-width="1.0"/>
<circle cx="341.6" cy="484.0" r="7.9" fill="#0a0a0a" stroke="#fff" stroke-width="1.0"/>
<circle cx="381.3" cy="478.4" r="7.9" fill="#0a0a0a" stroke="#fff" stroke-width="1.0"/>
<circle cx="421.1" cy="478.6" r="7.9" fill="#0a0a0a" stroke="#fff" stroke-width="1.0"/>
<circle cx="460.8" cy="478.6" r="7.9" fill="#0a0a0a" stroke="#fff" stroke-width="1.0"/>
<circle cx="500.8" cy="481.2" r="7.9" fill="#0a0a0a" stroke="#fff" stroke-width="1.0"/>
<circle cx="540.7" cy="480.7" r="7.9" fill="#0a0a0a" stroke="#fff" stroke-width="1.0"/>
<circle cx="580.4" cy="486.5" r="7.9" fill="#0a0a0a" stroke="#fff" stroke-width="1.0"/>
<circle cx="620.0" cy="485.4" r="7.9" fill="#0a0a0a" stroke="#fff" stroke-width="1.0"/>
<circle cx="660.2" cy="487.5" r="7.9" fill="#0a0a0a" stroke="#fff" stroke-width="1.0"/>
<polyline points="302.0,490.7 341.6,491.5 381.3,485.5 421.1,487.5 460.8,487.5 500.8,489.0 540.7,489.0 580.4,494.5 620.0,494.5 660.2,495.5" fill="none" stroke="#0a0a0a" stroke-width="3.7" stroke-linejoin="round" stroke-linecap="round"/>
<circle cx="302.0" cy="490.7" r="7.9" fill="#0a0a0a" stroke="#fff" stroke-width="1.0"/>
<circle cx="341.6" cy="491.5" r="7.9" fill="#0a0a0a" stroke="#fff" stroke-width="1.0"/>
<circle cx="381.3" cy="485.5" r="7.9" fill="#0a0a0a" stroke="#fff" stroke-width="1.0"/>
<circle cx="421.1" cy="487.5" r="7.9" fill="#0a0a0a" stroke="#fff" stroke-width="1.0"/>
<circle cx="460.8" cy="487.5" r="7.9" fill="#0a0a0a" stroke="#fff" stroke-width="1.0"/>
<circle cx="500.8" cy="489.0" r="7.9" fill="#0a0a0a" stroke="#fff" stroke-width="1.0"/>
<circle cx="540.7" cy="489.0" r="7.9" fill="#0a0a0a" stroke="#fff" stroke-width="1.0"/>
<circle cx="580.4" cy="494.5" r="7.9" fill="#0a0a0a" stroke="#fff" stroke-width="1.0"/>
<circle cx="620.0" cy="494.5" r="7.9" fill="#0a0a0a" stroke="#fff" stroke-width="1.0"/>
<circle cx="660.2" cy="495.5" r="7.9" fill="#0a0a0a" stroke="#fff" stroke-width="1.0"/>
<polyline points="302.0,487.2 341.6,485.4 381.3,483.7 421.1,484.3 460.8,484.3 500.8,487.1 540.7,487.1 580.4,492.8 620.0,490.7 660.2,493.9" fill="none" stroke="#0a0a0a" stroke-width="3.7" stroke-linejoin="round" stroke-linecap="round"/>
<circle cx="302.0" cy="487.2" r="7.9" fill="#0a0a0a" stroke="#fff" stroke-width="1.0"/>
<circle cx="341.6" cy="485.4" r="7.9" fill="#0a0a0a" stroke="#fff" stroke-width="1.0"/>
<circle cx="381.3" cy="483.7" r="7.9" fill="#0a0a0a" stroke="#fff" stroke-width="1.0"/>
<circle cx="421.1" cy="484.3" r="7.9" fill="#0a0a0a" stroke="#fff" stroke-width="1.0"/>
<circle cx="460.8" cy="484.3" r="7.9" fill="#0a0a0a" stroke="#fff" stroke-width="1.0"/>
<circle cx="500.8" cy="487.1" r="7.9" fill="#0a0a0a" stroke="#fff" stroke-width="1.0"/>
<circle cx="540.7" cy="487.1" r="7.9" fill="#0a0a0a" stroke="#fff" stroke-width="1.0"/>
<circle cx="580.4" cy="492.8" r="7.9" fill="#0a0a0a" stroke="#fff" stroke-width="1.0"/>
<circle cx="620.0" cy="490.7" r="7.9" fill="#0a0a0a" stroke="#fff" stroke-width="1.0"/>
<circle cx="660.2" cy="493.9" r="7.9" fill="#0a0a0a" stroke="#fff" stroke-width="1.0"/>
<rect x="84.3" y="427.9" width="597.50" height="341.90" fill="none" stroke="#1a1a1a" stroke-width="2.1" stroke-linejoin="round"/>
<rect x="312.8" y="692.0" width="359.5" height="65.0" fill="#fff" stroke="#1a1a1a" stroke-width="1.3"/>
<polyline points="323.6,708.5 364.8,708.5" fill="none" stroke="#0a0a0a" stroke-width="2.3" stroke-linejoin="round" stroke-linecap="round"/>
<circle cx="344.4" cy="708.5" r="7.8" fill="#0a0a0a" stroke="#fff" stroke-width="1.2"/>
<polyline points="323.6,738.5 364.8,738.5" fill="none" stroke="#14a83b" stroke-width="2.3" stroke-linejoin="round" stroke-linecap="round"/>
<circle cx="344.4" cy="738.5" r="7.8" fill="#14a83b" stroke="#fff" stroke-width="1.2"/>
<text x="375.28" y="716.30" font-size="24.0" fill="#111">Magmatic clinopyroxene</text>
<text x="375.28" y="745.70" font-size="24.0" fill="#111">Metamorphic clinopyroxene</text>
<text x="93.01" y="464.60" font-size="38.3" font-weight="bold" fill="#000">b</text>
<text x="36.00" y="431.40" font-size="24" fill="#111">100</text>
<text x="45.30" y="505.60" font-size="24" fill="#111">10</text>
<text x="52.70" y="571.40" font-size="24" fill="#111">1</text>
<text x="40.46" y="641.30" font-size="24" fill="#111">0.1</text>
<text x="31.46" y="708.40" font-size="24" fill="#111">0.01</text>
<text x="21.56" y="770.60" font-size="24" fill="#111">0.001</text>
<text x="95.66" y="790.80" font-size="24" fill="#111">La</text>
<text x="134.48" y="790.80" font-size="24" fill="#111">Ce</text>
<text x="176.72" y="790.80" font-size="24" fill="#111">Pr</text>
<text x="213.86" y="790.80" font-size="24" fill="#111">Nd</text>
<text x="293.74" y="790.80" font-size="24" fill="#111">Sm</text>
<text x="334.58" y="790.80" font-size="24" fill="#111">Eu</text>
<text x="372.30" y="790.80" font-size="24" fill="#111">Gd</text>
<text x="413.66" y="790.80" font-size="24" fill="#111">Tb</text>
<text x="452.40" y="790.80" font-size="24" fill="#111">Dy</text>
<text x="492.22" y="790.80" font-size="24" fill="#111">Ho</text>
<text x="534.22" y="790.80" font-size="24" fill="#111">Er</text>
<text x="572.00" y="790.80" font-size="24" fill="#111">Tm</text>
<text x="612.70" y="790.80" font-size="24" fill="#111">Yb</text>
<text x="651.90" y="790.80" font-size="24" fill="#111">Lu</text>
<text transform="translate(25.00,577.70) rotate(-90)" x="-93.22" y="0" font-size="30.0" fill="#111">CI-normalized</text>
<rect x="84.1" y="818.35" width="599.90" height="358.15" fill="#fff"/>
<line x1="84.1" x2="684.0" y1="880.93" y2="880.93" stroke="#f8f8f8" stroke-width="1"/>
<line x1="84.1" x2="684.0" y1="865.17" y2="865.17" stroke="#f8f8f8" stroke-width="1"/>
<line x1="84.1" x2="684.0" y1="853.98" y2="853.98" stroke="#f8f8f8" stroke-width="1"/>
<line x1="84.1" x2="684.0" y1="845.30" y2="845.30" stroke="#f8f8f8" stroke-width="1"/>
<line x1="84.1" x2="684.0" y1="838.21" y2="838.21" stroke="#f8f8f8" stroke-width="1"/>
<line x1="84.1" x2="684.0" y1="832.22" y2="832.22" stroke="#f8f8f8" stroke-width="1"/>
<line x1="84.1" x2="684.0" y1="827.03" y2="827.03" stroke="#f8f8f8" stroke-width="1"/>
<line x1="84.1" x2="684.0" y1="822.45" y2="822.45" stroke="#f8f8f8" stroke-width="1"/>
<line x1="84.1" x2="684.0" y1="970.47" y2="970.47" stroke="#f8f8f8" stroke-width="1"/>
<line x1="84.1" x2="684.0" y1="954.70" y2="954.70" stroke="#f8f8f8" stroke-width="1"/>
<line x1="84.1" x2="684.0" y1="943.52" y2="943.52" stroke="#f8f8f8" stroke-width="1"/>
<line x1="84.1" x2="684.0" y1="934.84" y2="934.84" stroke="#f8f8f8" stroke-width="1"/>
<line x1="84.1" x2="684.0" y1="927.75" y2="927.75" stroke="#f8f8f8" stroke-width="1"/>
<line x1="84.1" x2="684.0" y1="921.76" y2="921.76" stroke="#f8f8f8" stroke-width="1"/>
<line x1="84.1" x2="684.0" y1="916.56" y2="916.56" stroke="#f8f8f8" stroke-width="1"/>
<line x1="84.1" x2="684.0" y1="911.98" y2="911.98" stroke="#f8f8f8" stroke-width="1"/>
<line x1="84.1" x2="684.0" y1="1060.01" y2="1060.01" stroke="#f8f8f8" stroke-width="1"/>
<line x1="84.1" x2="684.0" y1="1044.24" y2="1044.24" stroke="#f8f8f8" stroke-width="1"/>
<line x1="84.1" x2="684.0" y1="1033.06" y2="1033.06" stroke="#f8f8f8" stroke-width="1"/>
<line x1="84.1" x2="684.0" y1="1024.38" y2="1024.38" stroke="#f8f8f8" stroke-width="1"/>
<line x1="84.1" x2="684.0" y1="1017.29" y2="1017.29" stroke="#f8f8f8" stroke-width="1"/>
<line x1="84.1" x2="684.0" y1="1011.29" y2="1011.29" stroke="#f8f8f8" stroke-width="1"/>
<line x1="84.1" x2="684.0" y1="1006.10" y2="1006.10" stroke="#f8f8f8" stroke-width="1"/>
<line x1="84.1" x2="684.0" y1="1001.52" y2="1001.52" stroke="#f8f8f8" stroke-width="1"/>
<line x1="84.1" x2="684.0" y1="1149.55" y2="1149.55" stroke="#f8f8f8" stroke-width="1"/>
<line x1="84.1" x2="684.0" y1="1133.78" y2="1133.78" stroke="#f8f8f8" stroke-width="1"/>
<line x1="84.1" x2="684.0" y1="1122.59" y2="1122.59" stroke="#f8f8f8" stroke-width="1"/>
<line x1="84.1" x2="684.0" y1="1113.92" y2="1113.92" stroke="#f8f8f8" stroke-width="1"/>
<line x1="84.1" x2="684.0" y1="1106.83" y2="1106.83" stroke="#f8f8f8" stroke-width="1"/>
<line x1="84.1" x2="684.0" y1="1100.83" y2="1100.83" stroke="#f8f8f8" stroke-width="1"/>
<line x1="84.1" x2="684.0" y1="1095.64" y2="1095.64" stroke="#f8f8f8" stroke-width="1"/>
<line x1="84.1" x2="684.0" y1="1091.06" y2="1091.06" stroke="#f8f8f8" stroke-width="1"/>
<line x1="84.1" x2="684.0" y1="907.89" y2="907.89" stroke="#b4abab" stroke-width="1.3"/>
<line x1="84.1" x2="684.0" y1="997.42" y2="997.42" stroke="#dcdcdc" stroke-width="1.3"/>
<line x1="84.1" x2="684.0" y1="1086.96" y2="1086.96" stroke="#b4abab" stroke-width="1.3"/>
<polyline points="104.1,955.6 144.1,965.0 184.0,970.0 224.0,981.5" fill="none" stroke="#0a0a0a" stroke-width="3.6" stroke-linejoin="round" stroke-linecap="round"/>
<polyline points="104.1,967.5 144.1,967.5 184.0,972.0 224.0,983.9" fill="none" stroke="#0a0a0a" stroke-width="3.6" stroke-linejoin="round" stroke-linecap="round"/>
<polyline points="104.1,979.5 144.1,979.5 184.0,983.5 224.0,992.4" fill="none" stroke="#0a0a0a" stroke-width="3.6" stroke-linejoin="round" stroke-linecap="round"/>
<polyline points="104.1,955.6 144.1,967.5 184.0,983.5 224.0,990.0" fill="none" stroke="#0a0a0a" stroke-width="3.6" stroke-linejoin="round" stroke-linecap="round"/>
<polyline points="104.1,953.0 144.1,963.5 184.0,977.5 224.0,987.0" fill="none" stroke="#0a0a0a" stroke-width="3.6" stroke-linejoin="round" stroke-linecap="round"/>
<polyline points="144.1,972.0 184.0,980.0 224.0,988.5" fill="none" stroke="#0a0a0a" stroke-width="3.6" stroke-linejoin="round" stroke-linecap="round"/>
<polyline points="303.9,987.9 343.9,930.8 383.9,1018.0 423.9,1032.0 463.8,1051.3 503.8,1052.0 543.8,1048.5" fill="none" stroke="#0a0a0a" stroke-width="3.6" stroke-linejoin="round" stroke-linecap="round"/>
<polyline points="303.9,998.1 343.9,934.0 383.9,1018.0" fill="none" stroke="#0a0a0a" stroke-width="3.6" stroke-linejoin="round" stroke-linecap="round"/>
<polyline points="303.9,1010.4 343.9,938.0 383.9,1029.0 423.9,1036.1 463.8,1068.0" fill="none" stroke="#0a0a0a" stroke-width="3.6" stroke-linejoin="round" stroke-linecap="round"/>
<polyline points="303.9,1004.0 343.9,936.0 383.9,1029.0 423.9,1061.0" fill="none" stroke="#0a0a0a" stroke-width="3.6" stroke-linejoin="round" stroke-linecap="round"/>
<polyline points="383.9,1029.0 423.9,1071.6 463.8,1071.0" fill="none" stroke="#0a0a0a" stroke-width="2.8" stroke-linejoin="round" stroke-linecap="round"/>
<polyline points="463.8,1058.0 503.8,1048.5" fill="none" stroke="#0a0a0a" stroke-width="2.8" stroke-linejoin="round" stroke-linecap="round"/>
<polyline points="463.8,1075.0 503.8,1087.3" fill="none" stroke="#0a0a0a" stroke-width="2.8" stroke-linejoin="round" stroke-linecap="round"/>
<polyline points="463.8,1078.0 503.8,1090.3" fill="none" stroke="#0a0a0a" stroke-width="2.8" stroke-linejoin="round" stroke-linecap="round"/>
<polyline points="503.8,1052.0 543.8,1075.5" fill="none" stroke="#0a0a0a" stroke-width="2.8" stroke-linejoin="round" stroke-linecap="round"/>
<polyline points="503.8,1065.2 543.8,1075.5" fill="none" stroke="#0a0a0a" stroke-width="2.8" stroke-linejoin="round" stroke-linecap="round"/>
<rect x="98.3" y="949.8" width="11.6" height="11.6" fill="#0a0a0a" stroke="#fff" stroke-width="1.0"/>
<rect x="98.3" y="961.7" width="11.6" height="11.6" fill="#0a0a0a" stroke="#fff" stroke-width="1.0"/>
<rect x="98.3" y="973.7" width="11.6" height="11.6" fill="#0a0a0a" stroke="#fff" stroke-width="1.0"/>
<rect x="138.3" y="959.2" width="11.6" height="11.6" fill="#0a0a0a" stroke="#fff" stroke-width="1.0"/>
<rect x="138.3" y="973.7" width="11.6" height="11.6" fill="#0a0a0a" stroke="#fff" stroke-width="1.0"/>
<rect x="138.3" y="961.7" width="11.6" height="11.6" fill="#0a0a0a" stroke="#fff" stroke-width="1.0"/>
<rect x="178.2" y="966.2" width="11.6" height="11.6" fill="#0a0a0a" stroke="#fff" stroke-width="1.0"/>
<rect x="178.2" y="964.2" width="11.6" height="11.6" fill="#0a0a0a" stroke="#fff" stroke-width="1.0"/>
<rect x="178.2" y="977.7" width="11.6" height="11.6" fill="#0a0a0a" stroke="#fff" stroke-width="1.0"/>
<rect x="218.2" y="975.7" width="11.6" height="11.6" fill="#0a0a0a" stroke="#fff" stroke-width="1.0"/>
<rect x="218.2" y="986.6" width="11.6" height="11.6" fill="#0a0a0a" stroke="#fff" stroke-width="1.0"/>
<rect x="218.2" y="984.2" width="11.6" height="11.6" fill="#0a0a0a" stroke="#fff" stroke-width="1.0"/>
<rect x="218.2" y="978.1" width="11.6" height="11.6" fill="#0a0a0a" stroke="#fff" stroke-width="1.0"/>
<rect x="298.1" y="1004.6" width="11.6" height="11.6" fill="#0a0a0a" stroke="#fff" stroke-width="1.0"/>
<rect x="298.1" y="992.3" width="11.6" height="11.6" fill="#0a0a0a" stroke="#fff" stroke-width="1.0"/>
<rect x="298.1" y="982.1" width="11.6" height="11.6" fill="#0a0a0a" stroke="#fff" stroke-width="1.0"/>
<rect x="338.1" y="932.2" width="11.6" height="11.6" fill="#0a0a0a" stroke="#fff" stroke-width="1.0"/>
<rect x="338.1" y="925.0" width="11.6" height="11.6" fill="#0a0a0a" stroke="#fff" stroke-width="1.0"/>
<rect x="378.1" y="1023.2" width="11.6" height="11.6" fill="#0a0a0a" stroke="#fff" stroke-width="1.0"/>
<rect x="378.1" y="1012.2" width="11.6" height="11.6" fill="#0a0a0a" stroke="#fff" stroke-width="1.0"/>
<rect x="418.1" y="1024.7" width="11.6" height="11.6" fill="#0a0a0a" stroke="#fff" stroke-width="1.0"/>
<rect x="418.1" y="1027.2" width="11.6" height="11.6" fill="#0a0a0a" stroke="#fff" stroke-width="1.0"/>
<rect x="418.1" y="1030.3" width="11.6" height="11.6" fill="#0a0a0a" stroke="#fff" stroke-width="1.0"/>
<rect x="418.1" y="1055.2" width="11.6" height="11.6" fill="#0a0a0a" stroke="#fff" stroke-width="1.0"/>
<rect x="418.1" y="1065.8" width="11.6" height="11.6" fill="#0a0a0a" stroke="#fff" stroke-width="1.0"/>
<rect x="458.0" y="1045.5" width="11.6" height="11.6" fill="#0a0a0a" stroke="#fff" stroke-width="1.0"/>
<rect x="458.0" y="1051.2" width="11.6" height="11.6" fill="#0a0a0a" stroke="#fff" stroke-width="1.0"/>
<rect x="458.0" y="1072.2" width="11.6" height="11.6" fill="#0a0a0a" stroke="#fff" stroke-width="1.0"/>
<rect x="458.0" y="1062.2" width="11.6" height="11.6" fill="#0a0a0a" stroke="#fff" stroke-width="1.0"/>
<rect x="498.0" y="1046.2" width="11.6" height="11.6" fill="#0a0a0a" stroke="#fff" stroke-width="1.0"/>
<rect x="498.0" y="1042.7" width="11.6" height="11.6" fill="#0a0a0a" stroke="#fff" stroke-width="1.0"/>
<rect x="498.0" y="1059.4" width="11.6" height="11.6" fill="#0a0a0a" stroke="#fff" stroke-width="1.0"/>
<rect x="498.0" y="1083.7" width="11.6" height="11.6" fill="#0a0a0a" stroke="#fff" stroke-width="1.0"/>
<rect x="538.0" y="1042.7" width="11.6" height="11.6" fill="#0a0a0a" stroke="#fff" stroke-width="1.0"/>
<rect x="538.0" y="1057.4" width="11.6" height="11.6" fill="#0a0a0a" stroke="#fff" stroke-width="1.0"/>
<rect x="538.0" y="1069.7" width="11.6" height="11.6" fill="#0a0a0a" stroke="#fff" stroke-width="1.0"/>
<polyline points="104.1,917.0 144.1,919.0 184.0,920.4 224.0,921.0" fill="none" stroke="#55aadb" stroke-width="3.6" stroke-linejoin="round" stroke-linecap="round"/>
<polyline points="303.9,930.8 343.9,886.0 383.9,934.0 423.9,944.0 463.8,951.0 503.8,964.0 543.8,984.0 583.7,1000.5 623.7,999.4 663.7,1020.3" fill="none" stroke="#55aadb" stroke-width="3.6" stroke-linejoin="round" stroke-linecap="round"/>
<path d="M97.3,917.0 L104.1,910.0 L110.9,917.0 L104.1,924.0Z" fill="#55aadb"/>
<path d="M137.3,919.0 L144.1,912.0 L150.9,919.0 L144.1,926.0Z" fill="#55aadb"/>
<path d="M177.2,920.4 L184.0,913.4 L190.8,920.4 L184.0,927.4Z" fill="#55aadb"/>
<path d="M217.2,921.0 L224.0,914.0 L230.8,921.0 L224.0,928.0Z" fill="#55aadb"/>
<path d="M297.1,930.8 L303.9,923.8 L310.8,930.8 L303.9,937.8Z" fill="#55aadb"/>
<path d="M337.1,886.0 L343.9,879.0 L350.7,886.0 L343.9,893.0Z" fill="#55aadb"/>
<path d="M377.1,934.0 L383.9,927.0 L390.7,934.0 L383.9,941.0Z" fill="#55aadb"/>
<path d="M417.1,944.0 L423.9,937.0 L430.7,944.0 L423.9,951.0Z" fill="#55aadb"/>
<path d="M457.0,951.0 L463.8,944.0 L470.6,951.0 L463.8,958.0Z" fill="#55aadb"/>
<path d="M497.0,964.0 L503.8,957.0 L510.6,964.0 L503.8,971.0Z" fill="#55aadb"/>
<path d="M537.0,984.0 L543.8,977.0 L550.6,984.0 L543.8,991.0Z" fill="#55aadb"/>
<path d="M576.9,1000.5 L583.7,993.5 L590.5,1000.5 L583.7,1007.5Z" fill="#55aadb"/>
<path d="M616.9,999.4 L623.7,992.4 L630.5,999.4 L623.7,1006.4Z" fill="#55aadb"/>
<path d="M656.9,1020.3 L663.7,1013.3 L670.5,1020.3 L663.7,1027.3Z" fill="#55aadb"/>
<polyline points="104.1,934.0 144.1,936.0 184.0,937.0 224.0,936.0" fill="none" stroke="#55aadb" stroke-width="3.6" stroke-linejoin="round" stroke-linecap="round"/>
<polyline points="303.9,938.0 343.9,891.0 383.9,940.0 423.9,950.0 463.8,957.7 503.8,968.6 543.8,988.0 583.7,1002.0 623.7,1012.0 663.7,1034.0" fill="none" stroke="#55aadb" stroke-width="3.6" stroke-linejoin="round" stroke-linecap="round"/>
<path d="M97.3,934.0 L104.1,927.0 L110.9,934.0 L104.1,941.0Z" fill="#55aadb"/>
<path d="M137.3,936.0 L144.1,929.0 L150.9,936.0 L144.1,943.0Z" fill="#55aadb"/>
<path d="M177.2,937.0 L184.0,930.0 L190.8,937.0 L184.0,944.0Z" fill="#55aadb"/>
<path d="M217.2,936.0 L224.0,929.0 L230.8,936.0 L224.0,943.0Z" fill="#55aadb"/>
<path d="M297.1,938.0 L303.9,931.0 L310.8,938.0 L303.9,945.0Z" fill="#55aadb"/>
<path d="M337.1,891.0 L343.9,884.0 L350.7,891.0 L343.9,898.0Z" fill="#55aadb"/>
<path d="M377.1,940.0 L383.9,933.0 L390.7,940.0 L383.9,947.0Z" fill="#55aadb"/>
<path d="M417.1,950.0 L423.9,943.0 L430.7,950.0 L423.9,957.0Z" fill="#55aadb"/>
<path d="M457.0,957.7 L463.8,950.7 L470.6,957.7 L463.8,964.7Z" fill="#55aadb"/>
<path d="M497.0,968.6 L503.8,961.6 L510.6,968.6 L503.8,975.6Z" fill="#55aadb"/>
<path d="M537.0,988.0 L543.8,981.0 L550.6,988.0 L543.8,995.0Z" fill="#55aadb"/>
<path d="M576.9,1002.0 L583.7,995.0 L590.5,1002.0 L583.7,1009.0Z" fill="#55aadb"/>
<path d="M616.9,1012.0 L623.7,1005.0 L630.5,1012.0 L623.7,1019.0Z" fill="#55aadb"/>
<path d="M656.9,1034.0 L663.7,1027.0 L670.5,1034.0 L663.7,1041.0Z" fill="#55aadb"/>
<polyline points="104.1,941.5 144.1,942.5 184.0,943.0 224.0,941.0" fill="none" stroke="#55aadb" stroke-width="3.6" stroke-linejoin="round" stroke-linecap="round"/>
<polyline points="303.9,951.0 343.9,907.0 383.9,958.0 423.9,970.0 463.8,978.0 503.8,988.0 543.8,995.0 583.7,1012.0 623.7,1025.0 663.7,1046.0" fill="none" stroke="#55aadb" stroke-width="3.6" stroke-linejoin="round" stroke-linecap="round"/>
<path d="M97.3,941.5 L104.1,934.5 L110.9,941.5 L104.1,948.5Z" fill="#55aadb"/>
<path d="M137.3,942.5 L144.1,935.5 L150.9,942.5 L144.1,949.5Z" fill="#55aadb"/>
<path d="M177.2,943.0 L184.0,936.0 L190.8,943.0 L184.0,950.0Z" fill="#55aadb"/>
<path d="M217.2,941.0 L224.0,934.0 L230.8,941.0 L224.0,948.0Z" fill="#55aadb"/>
<path d="M297.1,951.0 L303.9,944.0 L310.8,951.0 L303.9,958.0Z" fill="#55aadb"/>
<path d="M337.1,907.0 L343.9,900.0 L350.7,907.0 L343.9,914.0Z" fill="#55aadb"/>
<path d="M377.1,958.0 L383.9,951.0 L390.7,958.0 L383.9,965.0Z" fill="#55aadb"/>
<path d="M417.1,970.0 L423.9,963.0 L430.7,970.0 L423.9,977.0Z" fill="#55aadb"/>
<path d="M457.0,978.0 L463.8,971.0 L470.6,978.0 L463.8,985.0Z" fill="#55aadb"/>
<path d="M497.0,988.0 L503.8,981.0 L510.6,988.0 L503.8,995.0Z" fill="#55aadb"/>
<path d="M537.0,995.0 L543.8,988.0 L550.6,995.0 L543.8,1002.0Z" fill="#55aadb"/>
<path d="M576.9,1012.0 L583.7,1005.0 L590.5,1012.0 L583.7,1019.0Z" fill="#55aadb"/>
<path d="M616.9,1025.0 L623.7,1018.0 L630.5,1025.0 L623.7,1032.0Z" fill="#55aadb"/>
<path d="M656.9,1046.0 L663.7,1039.0 L670.5,1046.0 L663.7,1053.0Z" fill="#55aadb"/>
<polyline points="104.1,952.5 144.1,951.5 184.0,953.5 224.0,953.5" fill="none" stroke="#55aadb" stroke-width="3.6" stroke-linejoin="round" stroke-linecap="round"/>
<polyline points="303.9,964.0 343.9,914.5 383.9,965.0 423.9,980.0 463.8,988.0 503.8,998.0 543.8,1002.0 583.7,1029.5 623.7,1043.0 663.7,1055.0" fill="none" stroke="#55aadb" stroke-width="3.6" stroke-linejoin="round" stroke-linecap="round"/>
<path d="M97.3,952.5 L104.1,945.5 L110.9,952.5 L104.1,959.5Z" fill="#55aadb"/>
<path d="M137.3,951.5 L144.1,944.5 L150.9,951.5 L144.1,958.5Z" fill="#55aadb"/>
<path d="M177.2,953.5 L184.0,946.5 L190.8,953.5 L184.0,960.5Z" fill="#55aadb"/>
<path d="M217.2,953.5 L224.0,946.5 L230.8,953.5 L224.0,960.5Z" fill="#55aadb"/>
<path d="M297.1,964.0 L303.9,957.0 L310.8,964.0 L303.9,971.0Z" fill="#55aadb"/>
<path d="M337.1,914.5 L343.9,907.5 L350.7,914.5 L343.9,921.5Z" fill="#55aadb"/>
<path d="M377.1,965.0 L383.9,958.0 L390.7,965.0 L383.9,972.0Z" fill="#55aadb"/>
<path d="M417.1,980.0 L423.9,973.0 L430.7,980.0 L423.9,987.0Z" fill="#55aadb"/>
<path d="M457.0,988.0 L463.8,981.0 L470.6,988.0 L463.8,995.0Z" fill="#55aadb"/>
<path d="M497.0,998.0 L503.8,991.0 L510.6,998.0 L503.8,1005.0Z" fill="#55aadb"/>
<path d="M537.0,1002.0 L543.8,995.0 L550.6,1002.0 L543.8,1009.0Z" fill="#55aadb"/>
<path d="M576.9,1029.5 L583.7,1022.5 L590.5,1029.5 L583.7,1036.5Z" fill="#55aadb"/>
<path d="M616.9,1043.0 L623.7,1036.0 L630.5,1043.0 L623.7,1050.0Z" fill="#55aadb"/>
<path d="M656.9,1055.0 L663.7,1048.0 L670.5,1055.0 L663.7,1062.0Z" fill="#55aadb"/>
<polyline points="104.1,921.6 144.1,919.3 184.0,920.4 224.0,920.4" fill="none" stroke="#357abf" stroke-width="3.6" stroke-linejoin="round" stroke-linecap="round"/>
<polyline points="303.9,922.8 343.9,879.8 383.9,927.5 423.9,938.4 463.8,945.7 503.8,959.9 543.8,970.5 583.7,997.0 623.7,1006.6 663.7,1031.9" fill="none" stroke="#357abf" stroke-width="3.6" stroke-linejoin="round" stroke-linecap="round"/>
<circle cx="104.1" cy="921.6" r="6.1" fill="#357abf" stroke="#357abf" stroke-width="0"/>
<circle cx="144.1" cy="919.3" r="6.1" fill="#357abf" stroke="#357abf" stroke-width="0"/>
<circle cx="184.0" cy="920.4" r="6.1" fill="#357abf" stroke="#357abf" stroke-width="0"/>
<circle cx="224.0" cy="920.4" r="6.1" fill="#357abf" stroke="#357abf" stroke-width="0"/>
<circle cx="303.9" cy="922.8" r="6.1" fill="#357abf" stroke="#357abf" stroke-width="0"/>
<circle cx="343.9" cy="879.8" r="6.1" fill="#357abf" stroke="#357abf" stroke-width="0"/>
<circle cx="383.9" cy="927.5" r="6.1" fill="#357abf" stroke="#357abf" stroke-width="0"/>
<circle cx="423.9" cy="938.4" r="6.1" fill="#357abf" stroke="#357abf" stroke-width="0"/>
<circle cx="463.8" cy="945.7" r="6.1" fill="#357abf" stroke="#357abf" stroke-width="0"/>
<circle cx="503.8" cy="959.9" r="6.1" fill="#357abf" stroke="#357abf" stroke-width="0"/>
<circle cx="543.8" cy="970.5" r="6.1" fill="#357abf" stroke="#357abf" stroke-width="0"/>
<circle cx="583.7" cy="997.0" r="6.1" fill="#357abf" stroke="#357abf" stroke-width="0"/>
<circle cx="623.7" cy="1006.6" r="6.1" fill="#357abf" stroke="#357abf" stroke-width="0"/>
<circle cx="663.7" cy="1031.9" r="6.1" fill="#357abf" stroke="#357abf" stroke-width="0"/>
<polyline points="104.1,937.4 144.1,939.0 184.0,939.4 224.0,938.8" fill="none" stroke="#357abf" stroke-width="3.6" stroke-linejoin="round" stroke-linecap="round"/>
<polyline points="303.9,943.7 343.9,893.1 383.9,945.5 423.9,963.2 463.8,969.7 503.8,980.7 543.8,986.1 583.7,1004.2 623.7,1019.8 663.7,1041.5" fill="none" stroke="#357abf" stroke-width="3.6" stroke-linejoin="round" stroke-linecap="round"/>
<circle cx="104.1" cy="937.4" r="6.1" fill="#357abf" stroke="#357abf" stroke-width="0"/>
<circle cx="144.1" cy="939.0" r="6.1" fill="#357abf" stroke="#357abf" stroke-width="0"/>
<circle cx="184.0" cy="939.4" r="6.1" fill="#357abf" stroke="#357abf" stroke-width="0"/>
<circle cx="224.0" cy="938.8" r="6.1" fill="#357abf" stroke="#357abf" stroke-width="0"/>
<circle cx="303.9" cy="943.7" r="6.1" fill="#357abf" stroke="#357abf" stroke-width="0"/>
<circle cx="343.9" cy="893.1" r="6.1" fill="#357abf" stroke="#357abf" stroke-width="0"/>
<circle cx="383.9" cy="945.5" r="6.1" fill="#357abf" stroke="#357abf" stroke-width="0"/>
<circle cx="423.9" cy="963.2" r="6.1" fill="#357abf" stroke="#357abf" stroke-width="0"/>
<circle cx="463.8" cy="969.7" r="6.1" fill="#357abf" stroke="#357abf" stroke-width="0"/>
<circle cx="503.8" cy="980.7" r="6.1" fill="#357abf" stroke="#357abf" stroke-width="0"/>
<circle cx="543.8" cy="986.1" r="6.1" fill="#357abf" stroke="#357abf" stroke-width="0"/>
<circle cx="583.7" cy="1004.2" r="6.1" fill="#357abf" stroke="#357abf" stroke-width="0"/>
<circle cx="623.7" cy="1019.8" r="6.1" fill="#357abf" stroke="#357abf" stroke-width="0"/>
<circle cx="663.7" cy="1041.5" r="6.1" fill="#357abf" stroke="#357abf" stroke-width="0"/>
<polyline points="104.1,940.0 144.1,941.0 184.0,942.0 224.0,943.4" fill="none" stroke="#357abf" stroke-width="3.6" stroke-linejoin="round" stroke-linecap="round"/>
<polyline points="303.9,947.0 343.9,897.0 383.9,955.5 423.9,965.5 463.8,972.0 503.8,983.0 543.8,992.1 583.7,1008.0 623.7,1029.5 663.7,1041.5" fill="none" stroke="#357abf" stroke-width="3.6" stroke-linejoin="round" stroke-linecap="round"/>
<circle cx="104.1" cy="940.0" r="6.1" fill="#357abf" stroke="#357abf" stroke-width="0"/>
<circle cx="144.1" cy="941.0" r="6.1" fill="#357abf" stroke="#357abf" stroke-width="0"/>
<circle cx="184.0" cy="942.0" r="6.1" fill="#357abf" stroke="#357abf" stroke-width="0"/>
<circle cx="224.0" cy="943.4" r="6.1" fill="#357abf" stroke="#357abf" stroke-width="0"/>
<circle cx="303.9" cy="947.0" r="6.1" fill="#357abf" stroke="#357abf" stroke-width="0"/>
<circle cx="343.9" cy="897.0" r="6.1" fill="#357abf" stroke="#357abf" stroke-width="0"/>
<circle cx="383.9" cy="955.5" r="6.1" fill="#357abf" stroke="#357abf" stroke-width="0"/>
<circle cx="423.9" cy="965.5" r="6.1" fill="#357abf" stroke="#357abf" stroke-width="0"/>
<circle cx="463.8" cy="972.0" r="6.1" fill="#357abf" stroke="#357abf" stroke-width="0"/>
<circle cx="503.8" cy="983.0" r="6.1" fill="#357abf" stroke="#357abf" stroke-width="0"/>
<circle cx="543.8" cy="992.1" r="6.1" fill="#357abf" stroke="#357abf" stroke-width="0"/>
<circle cx="583.7" cy="1008.0" r="6.1" fill="#357abf" stroke="#357abf" stroke-width="0"/>
<circle cx="623.7" cy="1029.5" r="6.1" fill="#357abf" stroke="#357abf" stroke-width="0"/>
<circle cx="663.7" cy="1041.5" r="6.1" fill="#357abf" stroke="#357abf" stroke-width="0"/>
<polyline points="104.1,950.2 144.1,949.6 184.0,952.6 224.0,951.9" fill="none" stroke="#357abf" stroke-width="3.6" stroke-linejoin="round" stroke-linecap="round"/>
<polyline points="303.9,957.3 343.9,903.0 383.9,961.8 423.9,977.4 463.8,985.1 503.8,994.9 543.8,998.2 583.7,1021.0 623.7,1041.5 663.7,1053.6" fill="none" stroke="#357abf" stroke-width="3.6" stroke-linejoin="round" stroke-linecap="round"/>
<circle cx="104.1" cy="950.2" r="6.1" fill="#357abf" stroke="#357abf" stroke-width="0"/>
<circle cx="144.1" cy="949.6" r="6.1" fill="#357abf" stroke="#357abf" stroke-width="0"/>
<circle cx="184.0" cy="952.6" r="6.1" fill="#357abf" stroke="#357abf" stroke-width="0"/>
<circle cx="224.0" cy="951.9" r="6.1" fill="#357abf" stroke="#357abf" stroke-width="0"/>
<circle cx="303.9" cy="957.3" r="6.1" fill="#357abf" stroke="#357abf" stroke-width="0"/>
<circle cx="343.9" cy="903.0" r="6.1" fill="#357abf" stroke="#357abf" stroke-width="0"/>
<circle cx="383.9" cy="961.8" r="6.1" fill="#357abf" stroke="#357abf" stroke-width="0"/>
<circle cx="423.9" cy="977.4" r="6.1" fill="#357abf" stroke="#357abf" stroke-width="0"/>
<circle cx="463.8" cy="985.1" r="6.1" fill="#357abf" stroke="#357abf" stroke-width="0"/>
<circle cx="503.8" cy="994.9" r="6.1" fill="#357abf" stroke="#357abf" stroke-width="0"/>
<circle cx="543.8" cy="998.2" r="6.1" fill="#357abf" stroke="#357abf" stroke-width="0"/>
<circle cx="583.7" cy="1021.0" r="6.1" fill="#357abf" stroke="#357abf" stroke-width="0"/>
<circle cx="623.7" cy="1041.5" r="6.1" fill="#357abf" stroke="#357abf" stroke-width="0"/>
<circle cx="663.7" cy="1053.6" r="6.1" fill="#357abf" stroke="#357abf" stroke-width="0"/>
<rect x="84.1" y="1105.4" width="477.60" height="71.10" fill="#fff" stroke="#1a1a1a" stroke-width="1.3"/>
<rect x="84.1" y="818.35" width="599.90" height="358.15" fill="none" stroke="#1a1a1a" stroke-width="2.1" stroke-linejoin="round"/>
<polyline points="90.0,1119.6 130.0,1119.6" fill="none" stroke="#357abf" stroke-width="2.3" stroke-linejoin="round" stroke-linecap="round"/>
<circle cx="110.1" cy="1119.6" r="6.4" fill="#357abf" stroke="#357abf" stroke-width="0"/>
<polyline points="90.0,1141.0 130.0,1141.0" fill="none" stroke="#55aadb" stroke-width="2.3" stroke-linejoin="round" stroke-linecap="round"/>
<path d="M99.9,1141.0 L110.1,1132.0 L120.3,1141.0 L110.1,1150.0Z" fill="#55aadb"/>
<polyline points="90.0,1161.0 130.0,1161.0" fill="none" stroke="#0a0a0a" stroke-width="2.3" stroke-linejoin="round" stroke-linecap="round"/>
<rect x="104.6" y="1155.1" width="11.8" height="11.8" fill="#0a0a0a" stroke="#fff" stroke-width="1.0"/>
<text x="134.75" y="1128.00" font-size="23.1" fill="#111">Metamorphic plagioclase domain (type A)</text>
<text x="134.75" y="1148.80" font-size="23.1" fill="#111">Metamorpic plagioclase domain (type B)</text>
<text x="134.75" y="1169.60" font-size="23.1" fill="#111">Magmatic plagioclase</text>
<text x="91.77" y="849.70" font-size="38" font-weight="bold" fill="#000">c</text>
<text x="33.30" y="831.10" font-size="24" fill="#111">100</text>
<text x="43.00" y="913.40" font-size="24" fill="#111">10</text>
<text x="49.60" y="1002.80" font-size="24" fill="#111">1</text>
<text x="39.06" y="1092.20" font-size="24" fill="#111">0.1</text>
<text x="32.26" y="1181.40" font-size="24" fill="#111">0.01</text>
<text x="94.66" y="1198.00" font-size="24" fill="#111">La</text>
<text x="133.51" y="1198.00" font-size="24" fill="#111">Ce</text>
<text x="176.08" y="1198.00" font-size="24" fill="#111">Pr</text>
<text x="213.25" y="1198.00" font-size="24" fill="#111">Nd</text>
<text x="292.39" y="1198.00" font-size="24" fill="#111">Sm</text>
<text x="333.76" y="1198.00" font-size="24" fill="#111">Eu</text>
<text x="372.61" y="1198.00" font-size="24" fill="#111">Gd</text>
<text x="414.70" y="1198.00" font-size="24" fill="#111">Tb</text>
<text x="452.77" y="1198.00" font-size="24" fill="#111">Dy</text>
<text x="492.52" y="1198.00" font-size="24" fill="#111">Ho</text>
<text x="535.45" y="1198.00" font-size="24" fill="#111">Er</text>
<text x="572.86" y="1198.00" font-size="24" fill="#111">Tm</text>
<text x="613.69" y="1198.00" font-size="24" fill="#111">Yb</text>
<text x="654.52" y="1198.00" font-size="24" fill="#111">Lu</text>
<text transform="translate(22.80,990.40) rotate(-90)" x="-93.22" y="0" font-size="30.0" fill="#111">CI-normalized</text>
</svg>
</body></html>
